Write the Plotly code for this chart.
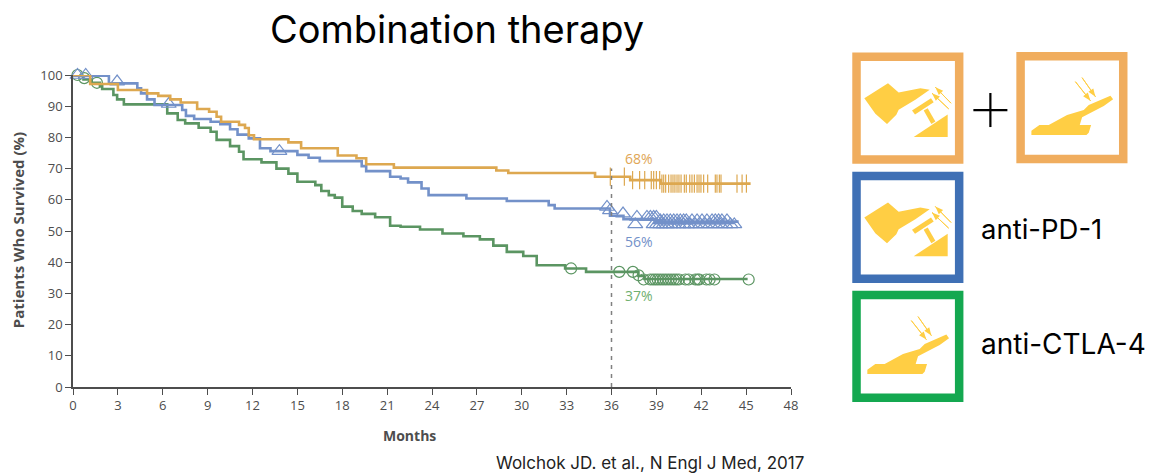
import plotly.graph_objects as go

W, H = 1153, 473
L, R, T, B = 73, 790.7, 75, 386.7

# step curves: month where each level starts, and the level
combo_x = [0, 1.15, 3.0, 4.95, 5.7, 6.5, 7.2, 8.3, 9.1, 9.6, 9.9, 11.1, 11.5, 11.75, 12.1, 14.4, 15.25, 17.7, 18.95,
           19.6, 21.45, 28.3, 29.1, 34.9, 37.25, 39.3, 45.3]
combo_y = [100, 97.1, 95.2, 94.1, 93.3, 92.2, 91.2, 89.1, 88.2, 86.6, 85, 84, 83, 80.7, 79.4, 78.4, 76.5, 74.2, 73.3,
           71.4, 70.3, 69.4, 68.6, 67.4, 66.3, 65.2, 65.2]
pd1_x = [0, 2.4, 4.3, 4.55, 4.95, 5.45, 7.3, 7.55, 8.1, 9.2, 9.85, 10.5, 11, 11.75, 12.5, 13.2, 15, 15.75, 16.5, 19.3,
         19.6, 21.2, 21.9, 22.4, 23.3, 23.77, 26.3, 29, 31.8, 32.2, 35.9, 36.8, 38.9, 44.5]
pd1_y = [99.8, 97.3, 95.7, 94.1, 92.2, 90.4, 88.8, 86.9, 85.9, 85, 84.2, 82.6, 80.9, 79.7, 76.5, 75.6, 74.4, 73.5, 72.4,
         70.8, 69.2, 67.4, 66.85, 65.6, 63.6, 61.5, 60.4, 59.6, 58.3, 57.2, 54.9, 53.8, 53, 53]
ctla_x = [0, 0.7, 1.25, 1.8, 1.95, 2.7, 2.95, 3.4, 6.3, 7, 7.5, 8.4, 9.2, 9.6, 10.5, 11.1, 11.4, 12.6, 13.6, 14.4, 15,
          16.2, 16.6, 17.1, 17.5, 18, 18.7, 19.3, 20.2, 21.2, 21.9, 23.2, 24.7, 26.1, 27.2, 28.1, 29, 30.1, 31, 32.9,
          34.3, 37.8, 38.2, 45.1]
ctla_y = [100, 98.6, 97.5, 96.4, 95.5, 93.6, 92.2, 90.6, 87.7, 85.6, 84.5, 83.1, 81.8, 79.2, 77.2, 75.4, 73, 72, 70,
          68.4, 65.8, 64.7, 62.8, 61.5, 60.7, 57.8, 56.4, 55.5, 54.4, 51.7, 51.35, 50.5, 49.2, 48.3, 47.3, 45.3, 43.3,
          42, 39, 38, 36.9, 35.6, 34.6, 34.6]

# censoring marks
combo_cens_x = [35.92, 36.86, 37.41, 37.88, 38.22, 38.66, 38.82, 39, 39.22, 39.37, 39.49, 39.62, 39.82, 39.98, 40.11,
                40.24, 40.38, 40.51, 40.65, 40.87, 41, 41.23, 41.38, 41.54, 41.72, 41.85, 41.98, 42.16, 42.43, 42.94,
                43.05, 43.21, 43.32, 44.39, 44.73, 45.02]
combo_cens_y = [67.4, 67.4, 66.3, 66.3, 66.3, 66.3, 66.3, 66.3, 66.3] + [65.2] * 27
pd1_cens_x = [0.3, 0.85, 2.95, 6.4, 13.8, 35.7, 35.9, 36.77, 37.7, 38.37, 38.6, 38.82, 39,
              39.26, 39.49, 39.71, 39.93, 40.16, 40.38, 40.6, 40.82, 41, 41.38, 41.72, 42.05, 42.38, 42.72, 42.94, 43.16,
              43.38, 43.72,
              37.59, 38.82, 39.04, 39.26, 39.49, 39.71, 39.93, 40.16, 40.49, 40.82, 41.05, 41.27, 41.6, 41.94, 42.27,
              42.6, 42.94, 43.27, 43.61, 43.95, 44.21]
pd1_cens_y = [100, 100, 97.9, 90.7, 75.6, 57.7, 56.6, 55.6, 54.5, 54.5, 54.5, 54.5, 54.5] + [53.4] * 18 + [52.1] * 21
ctla_cens_x = [0.3, 0.75, 1.6, 33.3, 36.52, 37.43, 37.81, 38.15, 38.59, 38.77, 38.93, 39.09, 39.26, 39.44, 39.62, 39.8,
               39.98, 40.16, 40.33, 40.51, 40.94, 41.16, 41.6, 41.76, 41.87, 42.34, 42.56, 42.88, 45.17]
ctla_cens_y = [100, 99, 97.5, 38, 36.9, 36.9, 35.8] + [34.45] * 22

cutoff_x = [36, 36]
cutoff_y = [0, 70]
x_ticks = list(range(0, 49, 3))
y_ticks = list(range(0, 101, 10))

ORANGE, BLUE, GREEN = "#DDA850", "#7391C9", "#5B9562"
GREY = "#4d4d4d"
YELLOW = "#FFCE44"


def px(x):
    return (x - L) / (R - L)


def py(y):
    return (B - y) / (B - T)


def poly(points, x0, y0, scale=1 / 3):
    # points are in 3x crop units, relative to the top left of the frame
    parts = [f"{px(x0 + a * scale):.5f},{py(y0 + b * scale):.5f}" for a, b in points]
    return "M" + " L".join(parts) + " Z"


def frame(x0, y0, color):
    return dict(type="rect", xref="paper", yref="paper", x0=px(x0 + 4.2), x1=px(x0 + 106.8), y0=py(y0 + 4.2),
                y1=py(y0 + 106.8), line=dict(color=color, width=8.5), fillcolor="white")


def filled(path, color=YELLOW, width=0):
    return dict(type="path", xref="paper", yref="paper", path=path, fillcolor=color, line=dict(color=color, width=width))


def arrows(x0, y0, pairs):
    out = []
    for (a, b), (c, d) in pairs:
        dx, dy = c - a, d - b
        n = (dx ** 2 + dy ** 2) ** 0.5
        ux, uy = dx / n, dy / n
        out.append(filled(poly([(a, b), (c, d)], x0, y0), width=1))
        out.append(filled(poly([(c, d), (c - 24 * ux - 9 * uy, d - 24 * uy + 9 * ux),
                                (c - 24 * ux + 9 * uy, d - 24 * uy - 9 * ux)], x0, y0)))
    return out


def pd1_icon(x0, y0):
    # offsets from the outer corner of the frame
    hand = [(36, 137), (107, 92), (139, 120), (204, 107), (232, 112), (189, 142), (139, 172), (132, 187), (104, 214),
            (69, 184)]
    bar = [(179, 174), (236, 137), (244, 149), (188, 186)]
    stem = [(214, 174), (226, 167), (249, 207), (237, 214)]
    wedge = [(184, 253), (286, 186), (286, 253)]
    out = [filled(poly(p, x0, y0)) for p in (hand, bar, stem, wedge)]
    return out + arrows(x0, y0, [((296, 152), (249, 104)), ((289, 169), (239, 122))])


def ctla_icon(x0, y0):
    body = [(45, 249), (45, 236), (69, 219), (97, 219), (152, 189), (202, 174), (217, 159), (282, 131), (290, 142),
            (262, 162), (197, 196), (190, 219), (224, 219), (217, 242), (210, 249)]
    return [filled(poly(body, x0, y0))] + arrows(x0, y0, [((177, 89), (222, 146)), ((197, 77), (237, 134))])


fig = go.Figure()
for name, x, y, cx, cy, color, symbol, size in [
    ("anti-CTLA-4", ctla_x, ctla_y, ctla_cens_x, ctla_cens_y, GREEN, "circle-open", 11),
    ("anti-PD-1", pd1_x, pd1_y, pd1_cens_x, pd1_cens_y, BLUE, "triangle-up-open", 13),
    ("Combination", combo_x, combo_y, combo_cens_x, combo_cens_y, ORANGE, "line-ns", 13),
]:
    fig.add_trace(go.Scatter(x=x, y=y, mode="lines", name=name, line=dict(color=color, width=2.6, shape="hv"),
                             cliponaxis=False))
    fig.add_trace(go.Scatter(x=cx, y=cy, mode="markers", name=name + " censored", cliponaxis=False,
                             marker=dict(symbol=symbol, size=size, color=color, line=dict(color=color, width=1.2))))
fig.add_trace(go.Scatter(x=cutoff_x, y=cutoff_y, mode="lines", name="36 months",
                         line=dict(color="#808080", width=1.5, dash="4px,5px")))

shapes = [frame(852, 52.5, "#F0AD5E"), frame(1016, 52, "#F0AD5E"), frame(852, 171.7, "#3F70B5"),
          frame(852, 290.7, "#14A850")]
shapes += pd1_icon(852, 52.5) + ctla_icon(1016, 52) + pd1_icon(852, 171.7) + ctla_icon(852, 290.7)
shapes += [
    dict(type="line", xref="paper", yref="paper", x0=px(973), x1=px(1007), y0=py(110), y1=py(110),
         line=dict(color="black", width=2.2)),
    dict(type="line", xref="paper", yref="paper", x0=px(990), x1=px(990), y0=py(93), y1=py(127),
         line=dict(color="black", width=2.2)),
]


def text(label, x, y, size, color="black", family="Inter", anchor="center", **kw):
    return dict(text=label, xref="paper", yref="paper", x=px(x), y=py(y), showarrow=False, xanchor=anchor,
                yanchor="middle", font=dict(size=size, color=color, family=family), **kw)


annotations = [
    text("Combination therapy", 457, 29, 38),
    text("anti-PD-1", 979, 229, 27.5, anchor="left"),
    text("anti-CTLA-4", 979, 344, 28, anchor="left"),
    text("Wolchok JD. et al., N Engl J Med, 2017", 650, 463, 17, color="#222222"),
    text("68%", 639, 158, 14, color="#E0A655", family="Open Sans"),
    text("56%", 639, 241, 14, color="#7391C9", family="Open Sans"),
    text("37%", 639, 295, 14, color="#6FB070", family="Open Sans"),
    text("<b>Patients Who Survived (%)</b>", 18, 230, 15, color=GREY, family="Open Sans", textangle=-90),
    text("<b>Months</b>", 409, 435, 14, color=GREY, family="Open Sans"),
]

fig.update_xaxes(range=[0, 48], tickvals=x_ticks, ticks="outside", ticklen=6, tickcolor=GREY, tickwidth=1.3,
                 showline=True, linecolor=GREY, linewidth=1.5, showgrid=False, zeroline=False,
                 tickfont=dict(size=13, color=GREY, family="Open Sans"))
fig.update_yaxes(range=[0, 100], tickvals=y_ticks, ticks="outside", ticklen=6, tickcolor=GREY, tickwidth=1.3,
                 showline=True, linecolor=GREY, linewidth=1.5, showgrid=False, zeroline=False,
                 tickfont=dict(size=13, color=GREY, family="Open Sans"))
fig.update_layout(width=W, height=H, margin=dict(l=L, r=W - R, t=T, b=H - B, pad=0), showlegend=False,
                  plot_bgcolor="white", paper_bgcolor="white", shapes=shapes, annotations=annotations)
fig.write_html("out.html", config=dict(displayModeBar=False), post_script="document.body.style.margin='0';")
